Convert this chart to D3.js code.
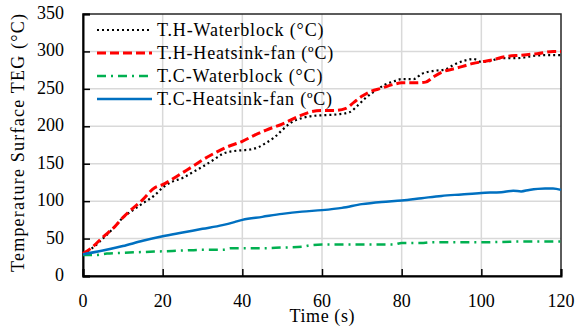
<!DOCTYPE html>
<html>
<head>
  <meta charset="utf-8">
  <title>TEG surface temperature</title>
  <script src="https://d3js.org/d3.v7.min.js"></script>
  <style>
    body { margin: 0; background: #fff; }
    text { font-family: "Liberation Serif", "DejaVu Serif", serif; fill: #000; }
  </style>
</head>
<body>
<script>
// time (s) / temperature (°C)
const thWater = [[0,30],[2,36],[5,50],[8,66],[10,78],[12,86],[15,97],[18,108],[20,118],[22,125],[25,131],[28,140],[30,146],[33,156],[35,163],[38,167],[40,168],[42,169],[44,172],[46,178],[48,185],[50,195],[52,204],[55,211],[58,214],[61,215],[64,216],[67,219],[69,228],[71,238],[73,246],[76,256],[78,260],[80,263],[83,263],[85,270],[88,274],[91,276],[93,282],[96,288],[98,290],[100,286],[102,287],[105,291],[109,291],[113,294],[116,295],[120,295]];
const thFan = [[0,30],[2,37],[5,52],[8,66],[10,78],[12,88],[15,102],[18,118],[20,122],[22,128],[25,138],[28,148],[30,155],[33,164],[36,172],[40,180],[43,188],[46,195],[50,203],[54,213],[57,219],[60,221],[63,221],[66,224],[68,232],[70,240],[72,246],[75,251],[78,256],[80,258],[83,258],[86,259],[88,266],[90,272],[94,278],[98,284],[100,286],[103,289],[106,293],[110,295],[114,297],[118,300],[120,300]];
const tcWater = [[0,28],[3,28],[6,30],[10,31],[15,32],[20,33],[25,34],[30,35],[35,35],[37,37],[40,37],[45,37],[50,38],[55,39],[57,41],[60,42],[70,42],[78,42],[80,44],[85,44],[87,45],[90,45],[100,45],[110,46],[120,46]];
const tcFan = [[0,29],[5,34],[10,40],[15,47],[20,53],[25,58],[30,63],[35,68],[38,72],[40,75],[45,79],[50,83],[55,86],[60,88],[65,91],[70,96],[75,99],[80,101],[85,104],[90,107],[95,109],[100,111],[105,112],[108,114],[110,113],[112,115],[116,117],[118,117],[120,115]];

const seriesNames = ["T.H-Waterblock (°C)", "T.H-Heatsink-fan (ºC)", "T.C-Waterblock (°C)", "T.C-Heatsink-fan (ºC)"];
const xTicks = [0, 20, 40, 60, 80, 100, 120];
const yTicks = [0, 50, 100, 150, 200, 250, 300, 350];

const styles = [
  {color: "#000000", width: 2.2, dash: "2,3"},
  {color: "#ff0000", width: 3, dash: "9,4"},
  {color: "#00b050", width: 2.5, dash: "9,5,2,5"},
  {color: "#0070c0", width: 2.5, dash: null}
];
const allData = [thWater, thFan, tcWater, tcFan];

const W = 576, H = 327;
const margin = {top: 14, right: 15, bottom: 51, left: 83};

const svg = d3.select("body").append("svg")
  .attr("width", W).attr("height", H);

const x = d3.scaleLinear().domain([0, 120]).range([margin.left, W - margin.right]);
const y = d3.scaleLinear().domain([0, 350]).range([H - margin.bottom, margin.top]);

// grid
svg.append("g")
  .selectAll("line")
  .data(yTicks.slice(1, -1))
  .join("line")
    .attr("x1", x(0)).attr("x2", x(120))
    .attr("y1", d => y(d)).attr("y2", d => y(d))
    .attr("stroke", "#d9d9d9").attr("stroke-width", 1.5);
svg.append("g")
  .selectAll("line")
  .data(xTicks.slice(1, -1))
  .join("line")
    .attr("x1", d => x(d)).attr("x2", d => x(d))
    .attr("y1", y(0)).attr("y2", y(350))
    .attr("stroke", "#d9d9d9").attr("stroke-width", 1.5);

// frame
svg.append("rect")
  .attr("x", x(0)).attr("y", y(350))
  .attr("width", x(120) - x(0)).attr("height", y(0) - y(350))
  .attr("fill", "none").attr("stroke", "#262626").attr("stroke-width", 1.5);

// axes with inside ticks
const xAxis = svg.append("g")
  .attr("transform", `translate(0,${y(0)})`)
  .call(d3.axisTop(x).tickValues(xTicks).tickSize(7).tickFormat(""));
xAxis.select(".domain").attr("stroke", "#000").attr("stroke-width", 2);
xAxis.selectAll(".tick line").attr("stroke-width", 1.5);

const yAxis = svg.append("g")
  .attr("transform", `translate(${x(0)},0)`)
  .call(d3.axisRight(y).tickValues(yTicks).tickSize(7).tickFormat(""));
yAxis.select(".domain").attr("stroke", "#000").attr("stroke-width", 2);
yAxis.selectAll(".tick line").attr("stroke-width", 1.5);

// tick labels
svg.append("g")
  .selectAll("text")
  .data(xTicks)
  .join("text")
    .attr("x", d => x(d)).attr("y", 307)
    .attr("text-anchor", "middle")
    .style("font-size", "18px")
    .text(d => d);
svg.append("g")
  .selectAll("text")
  .data(yTicks)
  .join("text")
    .attr("x", 64).attr("y", d => y(d) + 5)
    .attr("text-anchor", "end")
    .style("font-size", "18px")
    .text(d => d);

// axis titles
svg.append("text")
  .attr("x", 322).attr("y", 322)
  .attr("text-anchor", "middle")
  .style("font-size", "18px")
  .attr("textLength", 65)
  .text("Time (s)");
svg.append("text")
  .attr("transform", `translate(24,143) rotate(-90)`)
  .attr("text-anchor", "middle")
  .style("font-size", "18px")
  .attr("textLength", 258)
  .text("Temperature Surface TEG (°C)");

// series
const line = d3.line()
  .x(d => x(d[0]))
  .y(d => y(d[1]))
  .curve(d3.curveMonotoneX);

svg.append("g")
  .selectAll("path")
  .data(allData)
  .join("path")
    .attr("d", line)
    .attr("fill", "none")
    .attr("stroke", (d, i) => styles[i].color)
    .attr("stroke-width", (d, i) => styles[i].width)
    .attr("stroke-dasharray", (d, i) => styles[i].dash);

// legend
const legend = svg.append("g")
  .selectAll("g")
  .data(seriesNames)
  .join("g")
    .attr("transform", (d, i) => `translate(97,${30 + i * 23})`);

legend.append("line")
  .attr("x1", 0).attr("x2", 55)
  .attr("stroke", (d, i) => styles[i].color)
  .attr("stroke-width", (d, i) => styles[i].width)
  .attr("stroke-dasharray", (d, i) => styles[i].dash);

legend.append("text")
  .attr("x", 60).attr("y", 6)
  .style("font-size", "18px")
  .text(d => d)
  // reference face is wider than Liberation Serif
  .each(function() {
    this.setAttribute("textLength", this.getComputedTextLength() * 1.1);
  });
</script>
</body>
</html>
